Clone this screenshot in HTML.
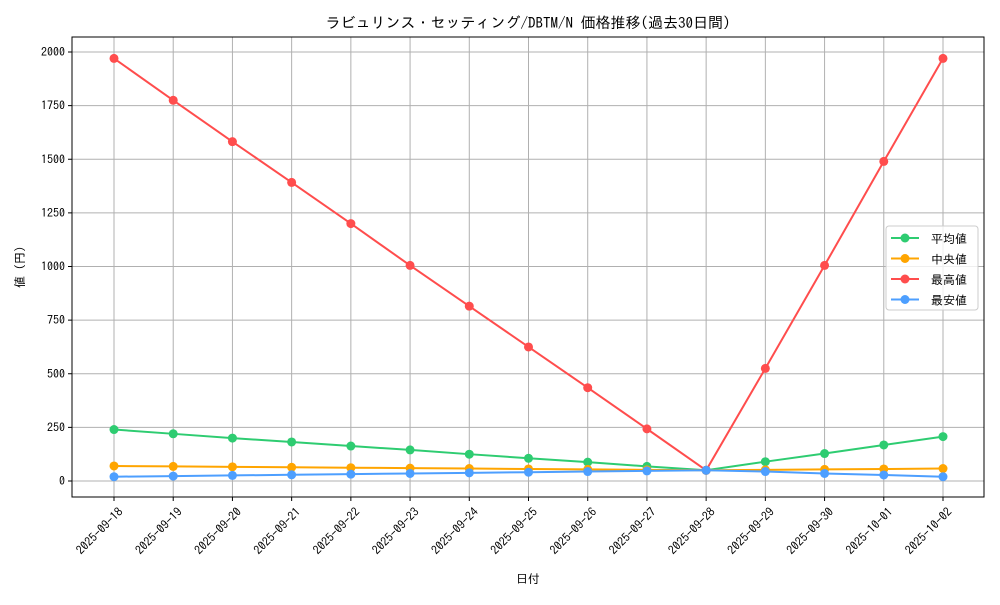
<!DOCTYPE html>
<html><head><meta charset="utf-8"><style>
body{margin:0;background:#fff}
svg{font-family:"IPAGothic","Noto Sans CJK JP",sans-serif}
</style></head><body>
<svg id="c" width="1000" height="600"></svg>
<script>
const categories=["2025-09-18","2025-09-19","2025-09-20","2025-09-21","2025-09-22","2025-09-23","2025-09-24","2025-09-25","2025-09-26","2025-09-27","2025-09-28","2025-09-29","2025-09-30","2025-10-01","2025-10-02"];
const avgValues=[240,220,200,182,163,145,125,106,88,68,50,90,128,168,207];
const medianValues=[70,68,66,64,62,60,58,56,54,52,50,52,54,56,58];
const maxValues=[1970,1775,1582,1392,1200,1005,815,625,435,243,50,525,1005,1490,1970];
const minValues=[20,23,26,29,32,35,38,41,44,47,50,44,35,28,20];
const yTicks=[0,250,500,750,1000,1250,1500,1750,2000];
const seriesNames=["平均値","中央値","最高値","最安値"];
const NS="http://www.w3.org/2000/svg";
const svg=document.getElementById('c');
const L=72,R=984,T=37,B=497;
const x=i=>114+i*(943-114)/(categories.length-1);
const y=v=>481-v*(429/2000);
function mk(t,a,p){const e=document.createElementNS(NS,t);for(const k in a)e.setAttribute(k,a[k]);(p||svg).appendChild(e);return e;}
const title=mk('text',{x:528,y:28,'text-anchor':'middle','font-size':15});title.textContent="ラビュリンス・セッティング/DBTM/N 価格推移(過去30日間)";


categories.forEach((c,i)=>{
 const g=mk('line',{x1:x(i),x2:x(i),y1:T,y2:B,stroke:'#b0b0b0','stroke-width':1});
 
 
 mk('line',{x1:x(i),x2:x(i),y1:B,y2:B+4,stroke:'#000'});
 const t=mk('text',{transform:`translate(${x(i)+4},${B+10}) rotate(-45)`,'text-anchor':'end','font-size':12,'dominant-baseline':'hanging'});
 t.textContent=c;
 
 
});
yTicks.forEach(v=>{
 const g=mk('line',{x1:L,x2:R,y1:y(v),y2:y(v),stroke:'#b0b0b0','stroke-width':1});
 
 
 mk('line',{x1:L-4,x2:L,y1:y(v),y2:y(v),stroke:'#000'});
 const t=mk('text',{x:L-7,y:y(v)+4,'text-anchor':'end','font-size':12});t.textContent=v;
 
 
});
const fr=mk('rect',{x:L,y:T,width:R-L,height:B-T,fill:'none',stroke:'#000'});


const xt=mk('text',{x:528,y:583,'text-anchor':'middle','font-size':12});xt.textContent="日付";


const yt=mk('text',{transform:'translate(24,267) rotate(-90)','text-anchor':'middle','font-size':12});yt.textContent="値 (円)";


const series=[[avgValues,'#2ecc71'],[medianValues,'#ffa500'],[maxValues,'#ff4d4d'],[minValues,'#4d9fff']];
series.forEach(([vals,col],si)=>{
 const p=mk('polyline',{points:vals.map((v,i)=>x(i)+','+y(v)).join(' '),fill:'none',stroke:col,'stroke-width':2});
 
 
 vals.forEach((v,i)=>{const c=mk('circle',{cx:x(i),cy:y(v),r:4.5,fill:col});
 
 });
});
const lg=mk('g',{});


mk('rect',{x:886,y:226,width:92,height:84,rx:3,fill:'#fff','fill-opacity':0.8,stroke:'#ccc'},lg);
series.forEach(([v,col],si)=>{
 const yy=238+si*20.5;
 mk('line',{x1:891,x2:919,y1:yy,y2:yy,stroke:col,'stroke-width':2},lg);
 mk('circle',{cx:905,cy:yy,r:4.5,fill:col},lg);
 const t=mk('text',{x:931,y:yy+5,'font-size':12},lg);t.textContent=seriesNames[si];
 
 
});
</script>
</body></html>
